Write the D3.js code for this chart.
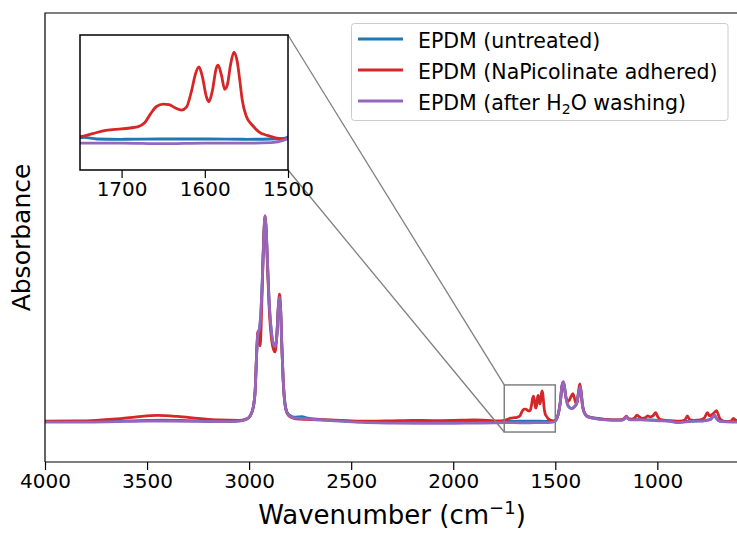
<!DOCTYPE html>
<html>
<head>
<meta charset="utf-8">
<script src="https://cdn.jsdelivr.net/npm/d3@7"></script>
<style>
  body { margin: 0; background: #fff; }
  svg { display: block; font-family: "DejaVu Sans", sans-serif; }
</style>
</head>
<body>
<script>
// ---- data: [wavenumber, absorbance] ----
var seriesNames = ["EPDM (untreated)", "EPDM (NaPicolinate adhered)", "EPDM (after H2O washing)"];
var seriesColors = ["#1f77b4", "#d62728", "#9467bd"];

var untreated = [[4000,0.002],[3800,0.002],[3650,0.004],[3500,0.008],[3420,0.009],[3300,0.007],[3150,0.004],[3050,0.006],
  [3010,0.016],[2995,0.03],[2980,0.07],[2970,0.16],[2963,0.33],[2957,0.43],[2950,0.45],[2943,0.52],[2935,0.7],[2928,0.9],
  [2922,0.99],[2917,0.94],[2910,0.77],[2900,0.55],[2890,0.43],[2880,0.375],[2872,0.37],[2864,0.42],[2857,0.55],[2851,0.6],
  [2846,0.55],[2840,0.38],[2833,0.2],[2825,0.1],[2815,0.05],[2800,0.032],[2780,0.024],[2740,0.026],[2720,0.02],[2650,0.012],
  [2550,0.006],[2450,0.002],[2300,0.0],[2150,-0.002],[2000,-0.002],[1900,0.0],[1800,0.002],[1760,0.004],[1745,0.0066],
  [1730,0.004],[1700,0.0035],[1650,0.004],[1600,0.004],[1550,0.0035],[1520,0.004],[1505,0.005],[1495,0.014],[1485,0.04],
  [1475,0.1],[1468,0.17],[1462,0.194],[1456,0.178],[1448,0.12],[1440,0.085],[1430,0.07],[1418,0.066],[1405,0.076],
  [1395,0.09],[1386,0.14],[1378,0.168],[1372,0.13],[1365,0.07],[1355,0.042],[1340,0.027],[1310,0.02],[1270,0.014],
  [1220,0.01],[1175,0.01],[1160,0.018],[1152,0.027],[1144,0.017],[1130,0.012],[1080,0.012],[1030,0.01],[980,0.008],
  [930,0.004],[900,0.0],[870,0.002],[820,0.005],[770,0.007],[740,0.013],[728,0.026],[720,0.033],[712,0.02],[700,0.007],
  [680,0.003],[640,0.002],[600,0.002]];

var adhered = [[4000,0.004],[3850,0.005],[3750,0.008],[3650,0.015],[3550,0.025],[3450,0.032],[3350,0.027],[3250,0.018],
  [3150,0.01],[3050,0.008],[3010,0.016],[2995,0.03],[2980,0.07],[2970,0.16],[2963,0.34],[2957,0.44],[2951,0.4],[2946,0.37],
  [2940,0.5],[2933,0.75],[2927,0.93],[2922,1.0],[2917,0.94],[2910,0.76],[2900,0.52],[2890,0.4],[2880,0.35],[2873,0.34],
  [2865,0.41],[2857,0.56],[2851,0.62],[2846,0.56],[2840,0.38],[2833,0.2],[2825,0.09],[2815,0.045],[2800,0.026],[2780,0.018],
  [2750,0.014],[2700,0.012],[2600,0.01],[2500,0.006],[2400,0.004],[2300,0.006],[2200,0.008],[2100,0.007],[2000,0.008],
  [1900,0.01],[1830,0.008],[1790,0.006],[1760,0.006],[1750,0.0077],[1735,0.013],[1719,0.0186],[1700,0.021],[1688,0.023],
  [1680,0.025],[1672,0.032],[1665,0.047],[1658,0.059],[1650,0.063],[1643,0.062],[1636,0.057],[1628,0.053],[1622,0.058],
  [1616,0.085],[1611,0.115],[1607,0.126],[1603,0.11],[1598,0.075],[1595,0.067],[1591,0.085],[1586,0.125],[1584,0.129],
  [1580,0.112],[1576,0.088],[1573,0.095],[1569,0.13],[1565,0.151],[1561,0.135],[1558,0.104],[1555,0.07],[1550,0.042],
  [1542,0.026],[1535,0.016],[1525,0.01],[1515,0.006],[1505,0.004],[1495,0.012],[1485,0.04],[1475,0.1],[1468,0.17],
  [1462,0.192],[1456,0.17],[1448,0.12],[1440,0.1],[1432,0.105],[1422,0.125],[1414,0.138],[1406,0.115],[1398,0.09],
  [1392,0.1],[1386,0.15],[1380,0.185],[1375,0.16],[1368,0.09],[1360,0.05],[1348,0.03],[1320,0.02],[1290,0.016],
  [1250,0.012],[1200,0.01],[1170,0.012],[1160,0.02],[1152,0.028],[1143,0.016],[1125,0.014],[1110,0.022],[1100,0.033],
  [1090,0.026],[1075,0.018],[1060,0.02],[1048,0.03],[1035,0.025],[1022,0.03],[1008,0.045],[998,0.025],[985,0.012],
  [960,0.008],[920,0.005],[890,0.004],[865,0.01],[853,0.03],[842,0.012],[820,0.008],[790,0.01],[770,0.02],[755,0.045],
  [744,0.03],[735,0.035],[722,0.045],[710,0.055],[703,0.04],[693,0.015],[680,0.006],[660,0.003],[640,0.004],[627,0.018],
  [615,0.008],[600,0.01]];

var washed = [[4000,0.0],[3800,0.0],[3650,0.002],[3500,0.004],[3400,0.004],[3250,0.003],[3100,0.002],[3040,0.006],
  [3010,0.015],[2995,0.03],[2980,0.07],[2970,0.16],[2963,0.33],[2957,0.43],[2950,0.45],[2943,0.52],[2935,0.7],[2928,0.9],
  [2922,1.0],[2917,0.95],[2910,0.78],[2900,0.55],[2890,0.43],[2880,0.375],[2872,0.365],[2864,0.42],[2857,0.55],[2851,0.605],
  [2846,0.55],[2840,0.38],[2833,0.2],[2825,0.09],[2815,0.045],[2800,0.028],[2780,0.02],[2750,0.018],[2720,0.015],[2650,0.01],
  [2550,0.004],[2450,-0.002],[2300,-0.005],[2150,-0.006],[2000,-0.006],[1900,-0.005],[1800,-0.004],[1750,-0.003],
  [1700,-0.003],[1650,-0.004],[1600,-0.003],[1550,-0.003],[1520,-0.002],[1505,0.002],[1495,0.012],[1485,0.04],[1475,0.1],
  [1468,0.17],[1462,0.196],[1456,0.18],[1448,0.12],[1440,0.085],[1430,0.07],[1418,0.065],[1405,0.075],[1395,0.09],
  [1386,0.14],[1378,0.17],[1372,0.13],[1365,0.07],[1355,0.04],[1340,0.025],[1310,0.018],[1270,0.012],[1220,0.008],
  [1175,0.008],[1160,0.016],[1152,0.026],[1144,0.016],[1130,0.01],[1080,0.01],[1030,0.008],[980,0.006],[930,0.002],
  [900,-0.003],[870,0.0],[820,0.004],[770,0.006],[740,0.012],[728,0.026],[720,0.034],[712,0.02],[700,0.006],[680,0.002],
  [640,0.0],[600,0.0]];

var mainTicks = [4000, 3500, 3000, 2500, 2000, 1500, 1000];
var insetTicks = [1700, 1600, 1500];
var insetRange = [1750, 1500];
var insetAbs = [-0.0485, 0.18];

var allSeries = [untreated, adhered, washed];

// ---- layout ----
var W = 737, H = 533;
var plot = {left: 45, top: 13, right: 739, bottom: 462};
var box = {left: 80, top: 35, right: 288, bottom: 170};

var svg = d3.select("body").append("svg")
    .attr("width", W)
    .attr("height", H);

var x = d3.scaleLinear().domain([4000, 600]).range([plot.left, plot.right]);
var y = d3.scaleLinear().domain([-0.194, 1.985]).range([plot.bottom, plot.top]);

var xi = d3.scaleLinear().domain(insetRange).range([box.left, box.right]);
var yi = d3.scaleLinear().domain(insetAbs).range([box.bottom, box.top]);

var defs = svg.append("defs");
defs.append("clipPath").attr("id", "clipMain").append("rect")
    .attr("x", plot.left).attr("y", plot.top)
    .attr("width", plot.right - plot.left).attr("height", plot.bottom - plot.top);
defs.append("clipPath").attr("id", "clipInset").append("rect")
    .attr("x", box.left).attr("y", box.top)
    .attr("width", box.right - box.left).attr("height", box.bottom - box.top);

// main curves
var line = d3.line()
    .x(function(d) { return x(d[0]); })
    .y(function(d) { return y(d[1]); })
    .curve(d3.curveMonotoneX);

var main = svg.append("g").attr("clip-path", "url(#clipMain)");
allSeries.forEach(function(s, i) {
  main.append("path")
    .datum(s)
    .attr("fill", "none")
    .attr("stroke", seriesColors[i])
    .attr("stroke-width", 2.8)
    .attr("stroke-linejoin", "round")
    .attr("d", line);
});

// zoom rectangle + connectors
svg.append("rect")
    .attr("x", x(insetRange[0])).attr("y", y(insetAbs[1]))
    .attr("width", x(insetRange[1]) - x(insetRange[0]))
    .attr("height", y(insetAbs[0]) - y(insetAbs[1]))
    .attr("fill", "none").attr("stroke", "#808080").attr("stroke-width", 1.5);

svg.append("line")
    .attr("x1", box.right).attr("y1", box.top)
    .attr("x2", x(insetRange[0])).attr("y2", y(insetAbs[1]))
    .attr("stroke", "#808080").attr("stroke-width", 1.3);
svg.append("line")
    .attr("x1", box.right).attr("y1", box.bottom)
    .attr("x2", x(insetRange[0])).attr("y2", y(insetAbs[0]))
    .attr("stroke", "#808080").attr("stroke-width", 1.3);

// main spines (right side is cut off by the picture)
svg.append("path")
    .attr("d", "M" + plot.left + "," + plot.bottom + "V" + plot.top + "H" + W)
    .attr("fill", "none").attr("stroke", "#000").attr("stroke-width", 1.2);

var xAxis = d3.axisBottom(x)
    .tickValues(mainTicks)
    .tickSize(8)
    .tickPadding(4)
    .tickFormat(d3.format("d"));

var gx = svg.append("g")
    .attr("transform", "translate(0," + plot.bottom + ")")
    .call(xAxis);
gx.select(".domain").remove();
gx.append("line")
    .attr("x1", plot.left).attr("x2", W)
    .attr("stroke", "#000").attr("stroke-width", 1.2);
gx.selectAll(".tick line").attr("stroke-width", 1.2);
gx.selectAll(".tick text")
    .attr("font-size", 20)
    .attr("font-family", "DejaVu Sans")
    .attr("fill", "#000");

// axis titles
var xt = svg.append("text")
    .attr("x", (plot.left + plot.right) / 2)
    .attr("y", 524)
    .attr("text-anchor", "middle")
    .attr("font-size", 26);
xt.append("tspan").text("Wavenumber (cm");
xt.append("tspan").attr("font-size", 18).attr("dy", -10).text("\u22121");
xt.append("tspan").attr("dy", 10).text(")");

svg.append("text")
    .attr("transform", "translate(30," + ((plot.top + plot.bottom) / 2) + ") rotate(-90)")
    .attr("text-anchor", "middle")
    .attr("font-size", 25)
    .text("Absorbance");

// ---- inset ----
var inset = svg.append("g");
inset.append("rect")
    .attr("x", box.left).attr("y", box.top)
    .attr("width", box.right - box.left).attr("height", box.bottom - box.top)
    .attr("fill", "#fff");

var lineI = d3.line()
    .x(function(d) { return xi(d[0]); })
    .y(function(d) { return yi(d[1]); })
    .curve(d3.curveMonotoneX);

var insetCurves = inset.append("g").attr("clip-path", "url(#clipInset)");
allSeries.forEach(function(s, i) {
  insetCurves.append("path")
    .datum(s.filter(function(d) { return d[0] <= 1800 && d[0] >= 1450; }))
    .attr("fill", "none")
    .attr("stroke", seriesColors[i])
    .attr("stroke-width", 2.8)
    .attr("stroke-linejoin", "round")
    .attr("d", lineI);
});

inset.append("rect")
    .attr("x", box.left).attr("y", box.top)
    .attr("width", box.right - box.left).attr("height", box.bottom - box.top)
    .attr("fill", "none").attr("stroke", "#000").attr("stroke-width", 1.5);

var gxi = inset.append("g")
    .attr("transform", "translate(0," + box.bottom + ")")
    .call(d3.axisBottom(xi).tickValues(insetTicks).tickSize(8).tickPadding(4).tickFormat(d3.format("d")));
gxi.select(".domain").remove();
gxi.selectAll(".tick line").attr("stroke-width", 1.2);
gxi.selectAll(".tick text")
    .attr("font-size", 20)
    .attr("font-family", "DejaVu Sans")
    .attr("fill", "#000");

// ---- legend ----
var lg = svg.append("g");
lg.append("rect")
    .attr("x", 351.5).attr("y", 23.5)
    .attr("width", 376.5).attr("height", 97)
    .attr("rx", 3)
    .attr("fill", "#fff").attr("fill-opacity", 0.8)
    .attr("stroke", "#cccccc").attr("stroke-width", 1);

seriesNames.forEach(function(name, i) {
  var ry = 39 + i * 31;
  lg.append("line")
    .attr("x1", 358).attr("x2", 403)
    .attr("y1", ry).attr("y2", ry)
    .attr("stroke", seriesColors[i]).attr("stroke-width", 3);
  var t = lg.append("text")
    .attr("x", 418).attr("y", ry + 9)
    .attr("font-size", 20.5);
  if (i === 2) {
    t.append("tspan").text("EPDM (after H");
    t.append("tspan").attr("font-size", 14).attr("dy", 4).text("2");
    t.append("tspan").attr("dy", -4).text("O washing)");
  } else {
    t.text(name);
  }
});
</script>
</body>
</html>
